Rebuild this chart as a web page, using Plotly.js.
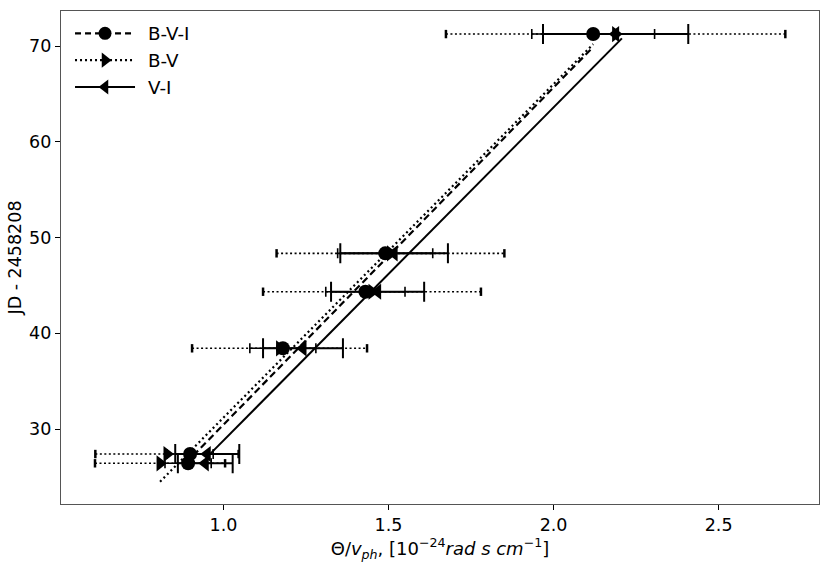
<!DOCTYPE html>
<html>
<head>
<meta charset="utf-8">
<script src="https://cdn.plot.ly/plotly-3.0.1.min.js"></script>
<style>
  html, body { margin: 0; padding: 0; background: #fff; }
  #chart { width: 831px; height: 565px; }
</style>
</head>
<body>
<div id="chart"></div>
<script>
// epochs, shared by all three colour combinations
const jd = [26.42, 27.39, 38.43, 44.34, 48.35, 71.25];

// B-V-I
const bviX = [0.893, 0.899, 1.18, 1.43, 1.49, 2.12];
const bviErr = [0.07, 0.07, 0.10, 0.12, 0.144, 0.186];
// B-V
const bvX = [0.808, 0.829, 1.17, 1.45, 1.506, 2.188];
const bvErr = [0.197, 0.217, 0.265, 0.33, 0.345, 0.514];
// V-I
const viX = [0.945, 0.951, 1.241, 1.467, 1.517, 2.188];
const viErr = [0.083, 0.097, 0.121, 0.141, 0.163, 0.22];

// linear fits (end points)
const fitBviX = [0.885, 2.12], fitBviY = [26.4, 69.9];
const fitBvX = [0.808, 2.12], fitBvY = [24.5, 70.2];
const fitViX = [0.96, 2.207], fitViY = [27.4, 70.8];

const names = ['B-V-I', 'B-V', 'V-I'];
const black = '#000';

// dotted error bars for B-V built as segments
const segX = [], segY = [], capX = [], capY = [];
bvX.forEach((x, i) => {
  segX.push(x - bvErr[i], x + bvErr[i], null);
  segY.push(jd[i], jd[i], null);
  capX.push(x - bvErr[i], x + bvErr[i]);
  capY.push(jd[i], jd[i]);
});

const traces = [
  // fit lines
  { x: fitBvX, y: fitBvY, mode: 'lines', showlegend: false, hoverinfo: 'skip',
    line: { color: black, width: 2.2, dash: '2px,3px' } },
  { x: fitBviX, y: fitBviY, mode: 'lines', showlegend: false, hoverinfo: 'skip',
    line: { color: black, width: 2.2, dash: '7px,4px' } },
  { x: fitViX, y: fitViY, mode: 'lines', showlegend: false, hoverinfo: 'skip',
    line: { color: black, width: 2 } },
  // B-V dotted error bars
  { x: segX, y: segY, mode: 'lines', showlegend: false, hoverinfo: 'skip',
    line: { color: black, width: 1.6, dash: '2px,2.5px' } },
  { x: capX, y: capY, mode: 'markers', showlegend: false, hoverinfo: 'skip',
    marker: { symbol: 'line-ns', size: 6, line: { color: black, width: 2.5 } } },
  // data points
  { x: bviX, y: jd, mode: 'markers', showlegend: false, name: names[0],
    marker: { symbol: 'circle', size: 14, color: black },
    error_x: { type: 'data', array: bviErr, visible: true, color: black, thickness: 1.6, width: 5 } },
  { x: viX, y: jd, mode: 'markers', showlegend: false, name: names[2],
    marker: { symbol: 'triangle-left', size: 14, color: black },
    error_x: { type: 'data', array: viErr, visible: true, color: black, thickness: 2, width: 10 } },
  { x: bvX, y: jd, mode: 'markers', showlegend: false, name: names[1],
    marker: { symbol: 'triangle-right', size: 14, color: black } },
  // legend entries
  { x: [null], y: [null], mode: 'lines+markers', name: names[0],
    line: { color: black, width: 2.2, dash: '6px,4px' }, marker: { symbol: 'circle', size: 13, color: black } },
  { x: [null], y: [null], mode: 'lines+markers', name: names[1],
    line: { color: black, width: 2.2, dash: '2px,3px' }, marker: { symbol: 'triangle-right', size: 13, color: black } },
  { x: [null], y: [null], mode: 'lines+markers', name: names[2],
    line: { color: black, width: 2 }, marker: { symbol: 'triangle-left', size: 13, color: black } }
];

const font = { family: 'DejaVu Sans', size: 17.5, color: '#000' };

const layout = {
  width: 831,
  height: 565,
  margin: { l: 61, r: 12, t: 11, b: 61 },
  paper_bgcolor: '#fff',
  plot_bgcolor: '#fff',
  font,
  showlegend: true,
  legend: {
    x: 0.0119, y: 0.992, xanchor: 'left', yanchor: 'top',
    bgcolor: 'rgba(255,255,255,0)', borderwidth: 0,
    font: { family: 'DejaVu Sans', size: 18.3, color: '#000' }
  },
  xaxis: {
    range: [0.508, 2.804],
    tickvals: [1.0, 1.5, 2.0, 2.5],
    ticktext: ['1.0', '1.5', '2.0', '2.5'],
    ticks: 'outside', ticklen: 5, tickwidth: 1, tickcolor: '#000',
    showgrid: false, zeroline: false,
    showline: true, linecolor: '#555', linewidth: 1.2, mirror: true,
    tickfont: font,
    title: {
      text: 'Θ/<i>v</i><sub><i>ph</i></sub>, [10<sup>−24</sup><i>rad s cm</i><sup>−1</sup>]',
      font: { family: 'DejaVu Sans', size: 18, color: '#000' }, standoff: 3
    }
  },
  yaxis: {
    range: [22.17, 73.66],
    tickvals: [30, 40, 50, 60, 70],
    ticks: 'outside', ticklen: 5, tickwidth: 1, tickcolor: '#000',
    showgrid: false, zeroline: false,
    showline: true, linecolor: '#555', linewidth: 1.2, mirror: true,
    tickfont: font,
    title: { text: 'JD - 2458208', font, standoff: 2 }
  }
};

// stretch the legend handles to the longer matplotlib-style ones
function widenLegend() {
  const gd = document.getElementById('chart');
  gd.querySelectorAll('.legend [clip-path]').forEach(el => el.removeAttribute('clip-path'));
  gd.querySelectorAll('.legend .traces').forEach(g => {
    g.querySelectorAll('.legendlines path').forEach(p => p.setAttribute('d', 'M5,0h60'));
    g.querySelectorAll('.legendpoints path').forEach(p => p.setAttribute('transform', 'translate(35,0)'));
    const t = g.querySelector('.legendtext');
    if (t) t.setAttribute('x', 78);
  });
}

Plotly.newPlot('chart', traces, layout, { displayModeBar: false, staticPlot: true }).then(widenLegend);
</script>
</body>
</html>
